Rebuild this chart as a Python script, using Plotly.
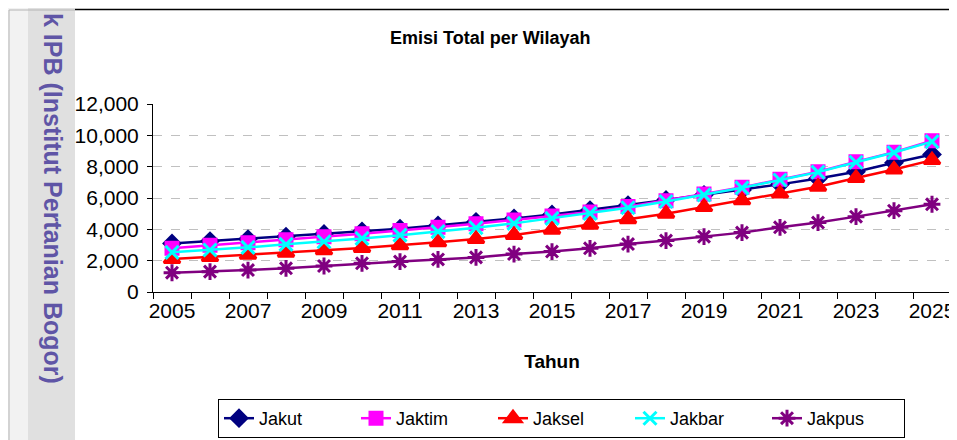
import plotly.graph_objects as go

# data
tahun = list(range(2005, 2026))
jakut = [3100, 3250, 3380, 3530, 3700, 3870, 4040, 4250, 4480, 4700, 4950,
         5230, 5550, 5870, 6200, 6510, 6870, 7250, 7680, 8250, 8780]
jaktim = [2800, 2980, 3150, 3330, 3520, 3720, 3920, 4130, 4360, 4600, 4850,
          5100, 5450, 5830, 6250, 6680, 7190, 7680, 8320, 8920, 9650]
jaksel = [2100, 2230, 2370, 2510, 2660, 2810, 2980, 3170, 3380, 3640, 3980,
          4300, 4650, 5000, 5420, 5850, 6280, 6720, 7280, 7820, 8420]
jakbar = [2530, 2680, 2850, 3040, 3210, 3420, 3630, 3850, 4100, 4380, 4700,
          5020, 5380, 5780, 6200, 6650, 7150, 7650, 8280, 8900, 9600]
jakpus = [1230, 1300, 1400, 1510, 1660, 1830, 1940, 2080, 2210, 2420, 2580,
          2790, 3060, 3280, 3530, 3790, 4130, 4430, 4810, 5190, 5600]

series = [
    ("Jakut", jakut, "#000080", "diamond", 12),
    ("Jaktim", jaktim, "#FF00FF", "square", 12),
    ("Jaksel", jaksel, "#FF0000", "triangle-up", 14),
    ("Jakbar", jakbar, "#00FFFF", "x-thin-open", 13),
    ("Jakpus", jakpus, "#800080", "asterisk-open", 14),
]

fig = go.Figure()
for name, vals, col, sym, sz in series:
    fig.add_trace(go.Scatter(
        x=tahun, y=vals, name=name, mode="lines+markers",
        line=dict(color=col, width=2.5),
        marker=dict(symbol=sym, size=sz, color=col, line=dict(color=col, width=3)),
    ))

# page body has an 8px margin, so the figure sits at (8, 8) on the page.
# plot area on the page: x 153..951, y 104..292
def px_x(p):
    return (p - 153) / 798

def px_y(p):
    return (292 - p) / 188

shapes = [
    dict(type="rect", xref="paper", yref="paper", x0=px_x(0), x1=px_x(28),
         y0=px_y(440), y1=px_y(0), fillcolor="#f2f2f2", line_width=0, layer="below"),
    dict(type="rect", xref="paper", yref="paper", x0=px_x(28), x1=px_x(75),
         y0=px_y(440), y1=px_y(0), fillcolor="#e0e0e0", line_width=0, layer="below"),
    dict(type="line", xref="paper", yref="paper", x0=px_x(9), x1=px_x(9),
         y0=px_y(10), y1=px_y(440), line=dict(color="#b4b4b4", width=1)),
    dict(type="line", xref="paper", yref="paper", x0=px_x(9), x1=px_x(75),
         y0=px_y(10), y1=px_y(10), line=dict(color="#b4b4b4", width=1)),
    dict(type="line", xref="paper", yref="paper", x0=px_x(75), x1=px_x(960),
         y0=px_y(9.5), y1=px_y(9.5), line=dict(color="#000000", width=1.5)),
]

annotations = [
    dict(text="<b>Emisi Total per Wilayah</b>", xref="paper", yref="paper",
         x=px_x(490), y=px_y(38), xanchor="center", yanchor="middle",
         showarrow=False,
         font=dict(family="Liberation Sans, Arial", size=18, color="#000")),
    dict(text="<b>k IPB (Institut Pertanian Bogor)</b>", xref="paper", yref="paper",
         x=px_x(53), y=px_y(198), xanchor="center", yanchor="middle",
         showarrow=False, textangle=90,
         font=dict(family="Liberation Sans, Arial", size=25, color="#5f55a6")),
]

fig.update_layout(
    width=949, height=432,
    margin=dict(l=145, r=6, t=96, b=148, autoexpand=False),
    paper_bgcolor="white", plot_bgcolor="white",
    font=dict(family="Liberation Sans, Arial", size=21, color="#000"),
    showlegend=True,
    legend=dict(orientation="h", x=px_x(218), y=px_y(399),
                xanchor="left", yanchor="top",
                bordercolor="#000", borderwidth=1,
                font=dict(size=18), entrywidth=92, entrywidthmode="pixels",
                tracegroupgap=0, valign="middle"),
    shapes=shapes, annotations=annotations,
)

fig.update_xaxes(
    range=[2004.5, 2025.5], tickvals=list(range(2005, 2026, 2)),
    ticks="", showline=True, linecolor="#000", linewidth=1,
    showgrid=False, zeroline=False, automargin=False,
    minor=dict(tick0=2004.5, dtick=1, ticks="outside", ticklen=6,
               tickcolor="#000", showgrid=False),
    title=dict(text="<b>Tahun</b>", standoff=33, font=dict(size=19)),
)
fig.update_yaxes(
    range=[0, 12000], dtick=2000, tickformat=",",
    ticks="outside", ticklen=5, tickcolor="#000", ticklabelstandoff=4,
    showline=True, linecolor="#000", linewidth=1,
    showgrid=True, gridcolor="#c0c0c0", griddash="dash", gridwidth=1,
    zeroline=False, automargin=False,
)

fig.write_html("out.html")
